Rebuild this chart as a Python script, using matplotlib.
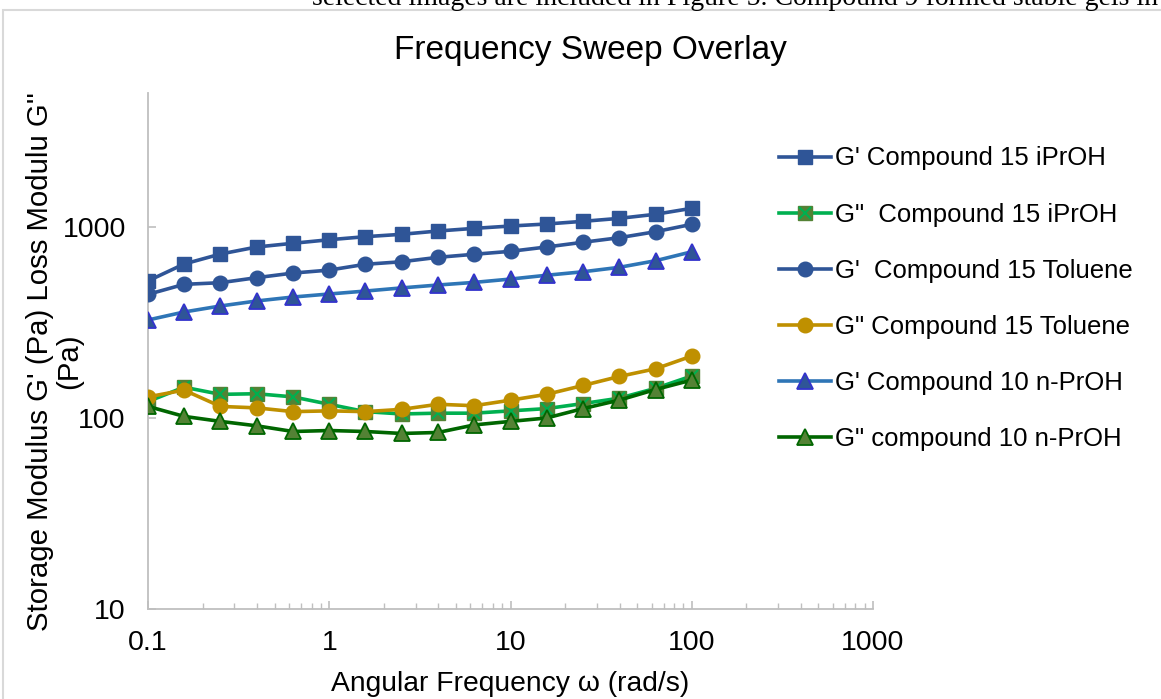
import matplotlib
matplotlib.use("Agg")
import matplotlib.pyplot as plt
from matplotlib.patches import Rectangle
from matplotlib.ticker import LogLocator, FixedLocator, FixedFormatter, NullFormatter
from matplotlib.legend_handler import HandlerTuple
from matplotlib.lines import Line2D

plt.rcParams['font.family'] = ['Liberation Sans', 'DejaVu Sans']

freq = [0.1, 0.158, 0.251, 0.398, 0.631, 1.0, 1.58, 2.51, 3.98, 6.31,
        10.0, 15.8, 25.1, 39.8, 63.1, 100.0]

g1_iproh = [522, 640, 722, 786, 822, 858, 890, 916, 953, 984,
            1012, 1037, 1071, 1110, 1166, 1253]
g2_iproh = [122, 145, 133, 134, 129, 118, 108, 105, 106, 106,
            109, 112, 119, 127, 143, 166]
g1_tol = [444, 501, 511, 543, 574, 595, 638, 658, 694, 720,
          746, 786, 832, 879, 945, 1033]
g2_tol = [129, 140, 115, 113, 108, 109, 108, 111, 118, 116,
          124, 133, 148, 165, 181, 211]
g1_nproh = [326, 359, 386, 410, 430, 446, 462, 480, 497, 513,
            534, 559, 583, 615, 666, 742]
g2_nproh = [115, 102, 96, 91, 85, 86, 85, 83, 84, 92,
            96, 100, 112, 124, 141, 158]

labels = ["G' Compound 15 iPrOH", 'G"  Compound 15 iPrOH', "G'  Compound 15 Toluene",
          'G" Compound 15 Toluene', "G' Compound 10 n-PrOH", 'G" compound 10 n-PrOH']

x_ticks = [0.1, 1, 10, 100, 1000]
x_tick_labels = ['0.1', '1', '10', '100', '1000']
y_ticks = [10, 100, 1000]
y_tick_labels = ['10', '100', '1000']

W, H = 1161, 699
fig = plt.figure(figsize=(W / 100, H / 100), dpi=100)

# page text cut off at top
fig.text(312 / W, 1 - 5 / H, 'selected images are included in Figure 5. Compound 9 formed stable gels in',
         family='Liberation Serif', fontsize=20, va='baseline', ha='left', color='black')
# chart border
fig.patches.append(Rectangle((3 / W, -0.05), 1.2, 1 - 10 / H + 0.05, transform=fig.transFigure,
                             facecolor='white', edgecolor='#D9D9D9', linewidth=1.5, zorder=-5))

ax = fig.add_axes([148 / W, 1 - 609 / H, (873 - 148) / W, (609 - 92.7) / H])
ax.set_facecolor('none')

lw = 2.6
ax.plot(freq, g1_iproh, color='#2F5597', lw=lw, marker='s', ms=10, mfc='#2F5597', mec='#2F5597', zorder=3)
l2, = ax.plot(freq, g2_iproh, color='#00B050', lw=lw, marker='s', ms=10, mfc='#548235', mec='#548235', zorder=3)
l2x, = ax.plot(freq, g2_iproh, ls='none', marker='x', ms=8, mew=1.5, mec='#00B050', zorder=3.1)
ax.plot(freq, g1_tol, color='#2F5597', lw=lw, marker='o', ms=10.5, mfc='#2F5597', mec='#2F5597', zorder=3)
ax.plot(freq, g2_tol, color='#BF9000', lw=lw, marker='o', ms=10.5, mfc='#BF9000', mec='#BF9000', zorder=3.2)
ax.plot(freq, g1_nproh, color='#2E75B6', lw=lw, marker='^', ms=11, mfc='#2F5597', mec='#3333CC', mew=1.3, zorder=3)
ax.plot(freq, g2_nproh, color='#006600', lw=lw, marker='^', ms=11, mfc='#548235', mec='#006600', mew=1.3, zorder=3.3)

ax.set_xscale('log')
ax.set_yscale('log')
ax.set_xlim(0.1, 1000)
ax.set_ylim(10, 5050)

ax.xaxis.set_major_locator(FixedLocator(x_ticks))
ax.xaxis.set_major_formatter(FixedFormatter(x_tick_labels))
ax.xaxis.set_minor_locator(LogLocator(base=10, subs=range(2, 10), numticks=20))
ax.xaxis.set_minor_formatter(NullFormatter())
ax.yaxis.set_major_locator(FixedLocator(y_ticks))
ax.yaxis.set_major_formatter(FixedFormatter(y_tick_labels))
ax.yaxis.set_minor_locator(FixedLocator([]))

for s in ['top', 'right']:
    ax.spines[s].set_visible(False)
for s in ['left', 'bottom']:
    ax.spines[s].set_color('#BFBFBF')
    ax.spines[s].set_linewidth(1.3)
ax.tick_params(axis='both', which='major', direction='in', length=6, width=1.2, color='#BFBFBF',
               labelsize=20.5, pad=15)
ax.tick_params(axis='x', which='minor', direction='in', length=4, width=1.0, color='#BFBFBF')
ax.tick_params(axis='y', which='major', pad=16)

ax.set_xlabel('Angular Frequency ω (rad/s)', fontsize=20.3)
ax.xaxis.set_label_coords(0.5, (609 - 671) / 516.3)

# y-axis title (two lines, as in the reference)
ycen = 1 - 361.5 / H
fig.text(40 / W, ycen, "Storage Modulus G' (Pa) Loss Modulu G''", rotation=90,
         fontsize=21.2, ha='center', va='center', rotation_mode='anchor')
fig.text(69 / W, ycen, "(Pa)", rotation=90,
         fontsize=21.2, ha='center', va='center', rotation_mode='anchor')

fig.text(590 / W, 1 - 50 / H, 'Frequency Sweep Overlay', fontsize=24, ha='center', va='center')

handles = [
    Line2D([], [], color='#2F5597', lw=lw, marker='s', ms=10, mfc='#2F5597', mec='#2F5597'),
    (l2, l2x),
    Line2D([], [], color='#2F5597', lw=lw, marker='o', ms=10.5, mfc='#2F5597', mec='#2F5597'),
    Line2D([], [], color='#BF9000', lw=lw, marker='o', ms=10.5, mfc='#BF9000', mec='#BF9000'),
    Line2D([], [], color='#2E75B6', lw=lw, marker='^', ms=11, mfc='#2F5597', mec='#3333CC', mew=1.3),
    Line2D([], [], color='#006600', lw=lw, marker='^', ms=11, mfc='#548235', mec='#006600', mew=1.3),
]
leg = fig.legend(handles, labels, loc='upper left', bbox_to_anchor=(779 / W, 1 - 146.5 / H),
                 frameon=False, fontsize=18.5, handlelength=2.02, handletextpad=0.16,
                 labelspacing=1.25, borderaxespad=0, borderpad=0,
                 handler_map={tuple: HandlerTuple(ndivide=1)})

fig.savefig('out.png', dpi=100)
